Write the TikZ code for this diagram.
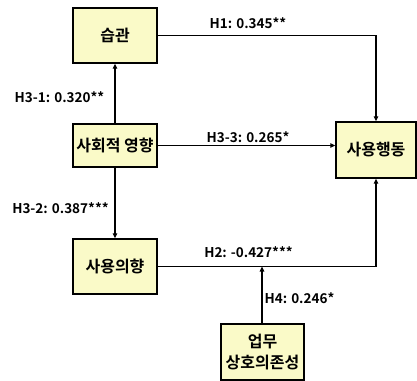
\documentclass[tikz,border=0pt]{standalone}
\usepackage{fontspec}
\newfontfamily\krb{Noto Sans CJK KR Bold}
\usetikzlibrary{arrows.meta,calc}
\definecolor{boxfill}{RGB}{250,250,200}
\tikzset{
  box/.style={draw=black, line width=1.4pt, fill=boxfill, inner sep=0pt, align=center, font=\krb\fontsize{16}{21}\selectfont},
  conn/.style={line width=1.1pt, -{Triangle[length=5pt,width=4.5pt]}},
  lab/.style={font=\krb\fontsize{13.5}{15}\selectfont, inner sep=0pt}
}
\begin{document}
\begin{tikzpicture}[x=1pt,y=-1pt]
\useasboundingbox (0,0) rectangle (417,380);
\node[box, minimum width=84pt, minimum height=55pt] (hab) at (115,35.5) {습관};
\node[box, minimum width=84pt, minimum height=43pt] (soc) at (115,145.5) {사회적 영향};
\node[box, minimum width=84pt, minimum height=55pt] (int) at (115,266.5) {사용의향};
\node[box, minimum width=80pt, minimum height=56pt] (beh) at (376,150) {사용행동};
\node[box, minimum width=83pt, minimum height=56pt] (task) at (262.5,352) {업무\\상호의존성};
\coordinate (h2top) at (262,266.5);
\draw[conn] (hab.east) -| (beh.north);
\draw[conn] (soc.east) -- (beh.west |- soc.east);
\draw[conn] (int.east) -| (beh.south);
\draw[conn] (soc.north) -- (hab.south);
\draw[conn] (soc.south) -- (int.north);
\draw[conn] (task.north -| h2top) -- (h2top);
\node[lab] (l1) at (248,23) {H1: 0.345**};
\node[lab] (l31) at (59.5,97) {H3-1: 0.320**};
\node[lab] (l33) at (248,137) {H3-3: 0.265*};
\node[lab] (l32) at (60.5,208) {H3-2: 0.387***};
\node[lab] (l2) at (248.5,252) {H2: -0.427***};
\node[lab] (l4) at (299.5,298) {H4: 0.246*};
\end{tikzpicture}
\end{document}
